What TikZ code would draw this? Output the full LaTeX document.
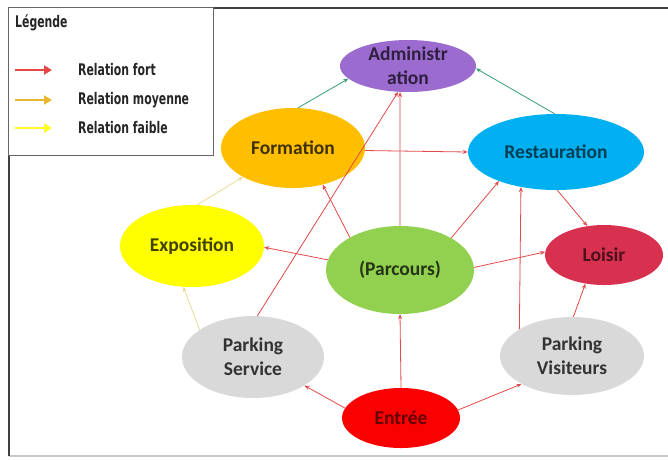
\documentclass[tikz,border=0pt]{standalone}
\usepackage{fontspec}
\setmainfont{Carlito}
\newfontfamily\legfont[BoldFont={DejaVu Sans Bold}]{DejaVu Sans}
\newcommand{\narrowtext}[1]{\scalebox{0.68}[1]{#1}}
\usetikzlibrary{shapes.geometric,arrows.meta}

\definecolor{cAdmin}{RGB}{155,107,207}
\definecolor{cForm}{RGB}{255,191,0}
\definecolor{cRest}{RGB}{0,176,240}
\definecolor{cExpo}{RGB}{255,255,0}
\definecolor{cParc}{RGB}{146,208,80}
\definecolor{cLoisir}{RGB}{216,48,79}
\definecolor{cPark}{RGB}{217,217,217}
\definecolor{cEntree}{RGB}{250,0,0}
\definecolor{relRed}{RGB}{228,72,72}
\definecolor{relGreen}{RGB}{52,160,112}
\definecolor{relPale}{RGB}{232,218,150}
\definecolor{legOrange}{RGB}{232,184,48}
\definecolor{legYellow}{RGB}{255,255,32}
\definecolor{frameDark}{RGB}{64,64,64}
\definecolor{frameLight}{RGB}{200,200,200}

\begin{document}
\begin{tikzpicture}[x=1pt,y=-1pt,
  bubble/.style={ellipse,inner sep=0pt,align=center,
    font=\fontsize{19.5}{24}\selectfont\bfseries},
  strong/.style={draw=relRed,line width=0.8pt,-{Stealth[length=5pt,width=4pt]}},
  upward/.style={draw=relGreen,line width=0.8pt,-{Stealth[length=5pt,width=4pt]}},
  weak/.style={draw=relPale,line width=0.8pt,-{Stealth[length=5pt,width=4pt]}},
  legarrow/.style={line width=2.6pt,-{Triangle[length=8pt,width=9pt]}},
  legtext/.style={anchor=west,inner sep=0pt,text=black!85,
    font=\fontsize{16}{19}\legfont\bfseries\selectfont}
]
\useasboundingbox (0,0) rectangle (668,459);

% outer frame
\draw[frameLight,line width=1.5pt] (9,456) -- (668,456);
\draw[frameDark,line width=2.5pt] (9,456) -- (9,8) -- (668,8);

% legend box
\node[draw=frameDark!80,line width=0.8pt,fill=white,anchor=north west,
  minimum width=205pt,minimum height=148pt,inner sep=0pt] (legend) at (8,7) {};
\node[legtext] (legtitle) at (15,23) {\narrowtext{Légende}};
\coordinate (k1a) at (15,70);  \coordinate (k1b) at (52,70);
\coordinate (k2a) at (15,100); \coordinate (k2b) at (52,100);
\coordinate (k3a) at (15,128); \coordinate (k3b) at (52,128);
\draw[legarrow,relRed] (k1a) -- (k1b);
\draw[legarrow,legOrange] (k2a) -- (k2b);
\draw[legarrow,legYellow] (k3a) -- (k3b);
\node[legtext] (l1) at (78,70) {\narrowtext{Relation fort}};
\node[legtext] (l2) at (78,100) {\narrowtext{Relation moyenne}};
\node[legtext] (l3) at (78,128) {\narrowtext{Relation faible}};

% places
\node[bubble,fill=cAdmin,text=cAdmin!30!black,minimum width=136pt,minimum height=52pt,inner ysep=-2pt]
  (admin) at (408,66) {Administr\\ation};
\node[bubble,fill=cForm,text=cForm!25!black,minimum width=144pt,minimum height=80pt]
  (form) at (293,148) {Formation};
\node[bubble,fill=cRest,text=cRest!35!black,minimum width=176pt,minimum height=76pt]
  (rest) at (556,152) {Restauration};
\node[bubble,fill=cExpo,text=cExpo!25!black,minimum width=144pt,minimum height=82pt]
  (expo) at (192,246) {Exposition};
\node[bubble,fill=cParc,text=cParc!25!black,minimum width=148pt,minimum height=88pt]
  (parc) at (400,270) {(Parcours)};
\node[bubble,fill=cLoisir,text=cLoisir!35!black,minimum width=118pt,minimum height=60pt]
  (loisir) at (604,255) {Loisir};
\node[bubble,fill=cPark,text=black!80,minimum width=142pt,minimum height=82pt]
  (ps) at (253,357) {Parking\\Service};
\node[bubble,fill=cPark,text=black!80,minimum width=144pt,minimum height=78pt]
  (pv) at (572,356) {Parking\\Visiteurs};
\node[bubble,fill=cEntree,text=cEntree!40!black,minimum width=118pt,minimum height=60pt]
  (entree) at (401,418) {Entrée};

% links towards the administration
\draw[upward] (form.83) -- (admin.192);
\draw[upward] (rest.92) -- (admin.-2);

% strong links
\draw[strong] (form.-2) -- (rest.180);
\draw[strong] (rest.-88) -- (loisir.120);
\draw[strong] (parc.172) -- (expo.-1);
\draw[strong] (parc.147) -- (form.-51);
\draw[strong] (parc.north) -- (admin.-107);
\draw[strong] (ps.84) -- (admin.-111);
\draw[strong] (parc.32) -- (rest.-153);
\draw[strong] (parc.2) -- (loisir.177);
\draw[strong] (pv.153) -- (rest.-135);
\draw[strong] (pv.88) -- (loisir.-123);
\draw[strong] (entree.170) -- (ps.-29);
\draw[strong] (entree.8) -- (pv.209);
\draw[strong] (entree.north) -- (parc.south);

% weak links
\draw[weak] (ps.153) -- (expo.-102);
\draw[weak] (expo.83) -- (form.-150);
\end{tikzpicture}
\end{document}
